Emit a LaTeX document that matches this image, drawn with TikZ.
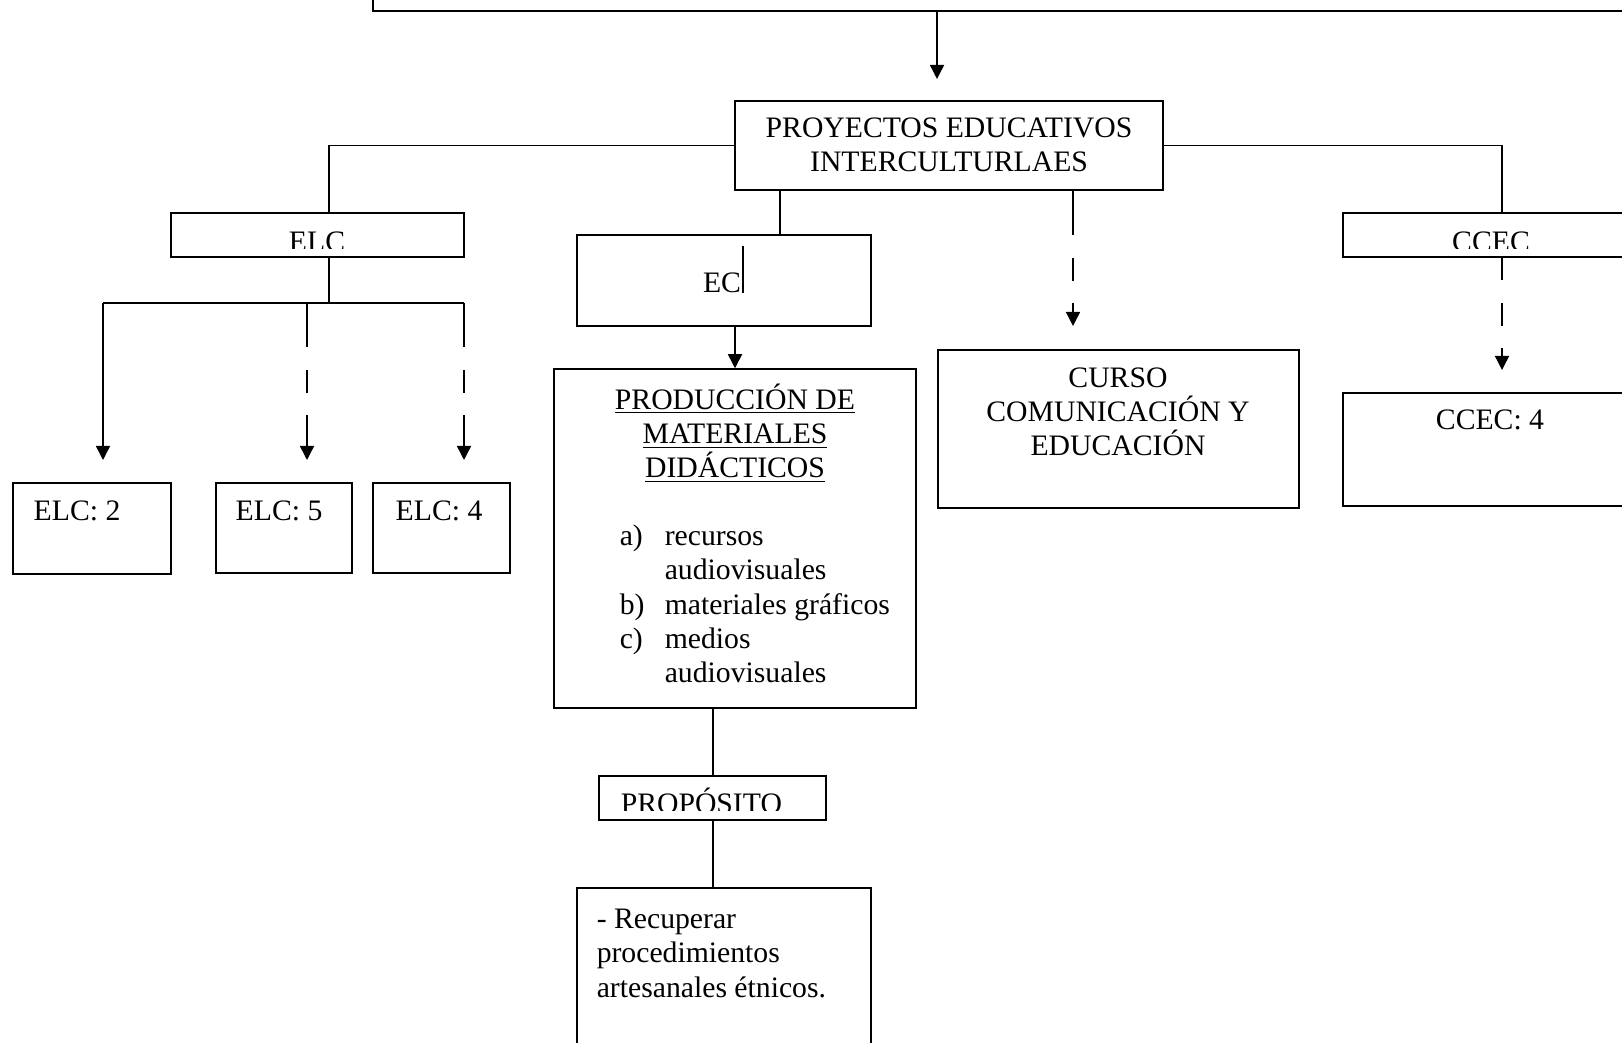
\documentclass[tikz,border=0pt]{standalone}
\usepackage{fontspec}
\setmainfont{Liberation Serif}
\usetikzlibrary{arrows.meta}
\usetikzlibrary{fit}
\tikzset{caja/.style={draw, line width=0.6pt, inner sep=0pt}}
\tikzset{flecha/.style={-{Triangle[length=5.7pt,width=5.7pt]}}}
\tikzset{discont/.style={dash pattern=on 17.8pt off 9.3pt on 9.3pt off 8.9pt}}
\tikzset{centro/.style={inner sep=0pt, anchor=base, align=center}}
\tikzset{texto/.style={inner sep=0pt, anchor=base west, align=left}}

\begin{document}
\begin{tikzpicture}[x=0.404pt, y=-0.404pt, line width=0.6pt, font=\fontsize{12}{13.9}\selectfont]
    \useasboundingbox (0,0) rectangle (1622,1043);
    \clip (0,0) rectangle (1622,1043);

    % cajas
    \node[caja, fit={(373,-40) (1680,11)}] (top){};
    \node[caja, fit={(735,101) (1163,190)}] (pei){};
    \node[caja, fit={(171,213) (464,257)}] (elc){};
    \node[caja, fit={(577,235) (871,326)}] (ec){};
    \node[caja, fit={(1343,213) (1680,257)}] (ccec){};
    \node[caja, fit={(554,369) (916,708)}] (prod){};
    \node[caja, fit={(938,350) (1299,508)}] (curso){};
    \node[caja, fit={(1343,393) (1680,506)}] (ccec4){};
    \node[caja, fit={(13,483) (171,574)}] (elc2){};
    \node[caja, fit={(216,483) (352,573)}] (elc5){};
    \node[caja, fit={(373,483) (510,573)}] (elc4){};
    \node[caja, fit={(599,776) (826,820)}] (prop){};
    \node[caja, fit={(577,888) (871,1080)}] (recu){};

    % textos (base = ultima linea)
    \node[centro] at (949,172) (peit){PROYECTOS EDUCATIVOS\\INTERCULTURLAES};
    \begin{scope}
      \clip (elc.north west) rectangle ([yshift=3.6pt]elc.south east);
      \node[centro] at (317,252) (elct){ELC};
    \end{scope}
    \begin{scope}
      \clip (ccec.north west) rectangle ([yshift=3.6pt]ccec.south east);
      \node[centro] at (1491,252) (ccect){CCEC};
    \end{scope}
    \begin{scope}
      \clip (prop.north west) rectangle ([yshift=4pt]prop.south east);
      \node[texto] at (620,814) (propt){PROPÓSITO};
    \end{scope}
    \node[centro] at (722,293) (ect){EC};
    \draw[line width=0.5pt] (743,246) -- (743,293);
    \node[centro] at (735,478) (prodt){\underline{PRODUCCIÓN DE}\\\underline{MATERIALES}\\\underline{DIDÁCTICOS}};
    \node[texto] at (619,683) (lista){\makebox[18.2pt][l]{a)}recursos\\\hspace*{18.2pt}audiovisuales\\\makebox[18.2pt][l]{b)}materiales gráficos\\\makebox[18.2pt][l]{c)}medios\\\hspace*{18.2pt}audiovisuales};
    \node[centro] at (1118,456) (cursot){CURSO\\COMUNICACIÓN Y\\EDUCACIÓN};
    \node[centro] at (1490,430) (ccec4t){CCEC: 4};
    \node[texto] at (33,521) (elc2t){ELC: 2};
    \node[texto] at (235,521) (elc5t){ELC: 5};
    \node[texto] at (395,521) (elc4t){ELC: 4};
    \node[texto] at (596,997) (recut){- Recuperar\\procedimientos\\artesanales étnicos.};

    % conectores
    \coordinate (t0) at (937,79);
    \coordinate (e1) at (329,303);
    \coordinate (e2) at (1502,0);
    \coordinate (e3) at (780,0);
    \coordinate (e4) at (735,0);
    \coordinate (e5) at (713,0);
    \coordinate (t1) at (103,460);
    \coordinate (t2) at (307,460);
    \coordinate (t3) at (464,460);
    \coordinate (t4) at (1073,326);
    \coordinate (t5) at (1502,370);

    \draw[flecha] (t0 |- top.south) -- (t0);
    \draw (pei.west) -| (e1 |- elc.north);
    \draw (pei.east) -| (e2 |- ccec.north);
    \draw (e1 |- elc.south) -- (e1);
    \draw (t1 |- e1) -- (t3 |- e1);
    \draw[flecha] (t1 |- e1) -- (t1);
    \draw[flecha, discont] (t2 |- e1) -- (t2);
    \draw[flecha, discont] (t3 |- e1) -- (t3);
    \draw (e3 |- pei.south) -- (e3 |- ec.north);
    \draw[flecha] (e4 |- ec.south) -- (e4 |- prod.north);
    \draw[flecha, discont] (t4 |- pei.south) -- (t4);
    \draw[flecha, discont, dash phase=8.9pt] (t5 |- ccec.south) -- (t5);
    \draw (e5 |- prod.south) -- (e5 |- prop.north);
    \draw (e5 |- prop.south) -- (e5 |- recu.north);
\end{tikzpicture}
\end{document}
